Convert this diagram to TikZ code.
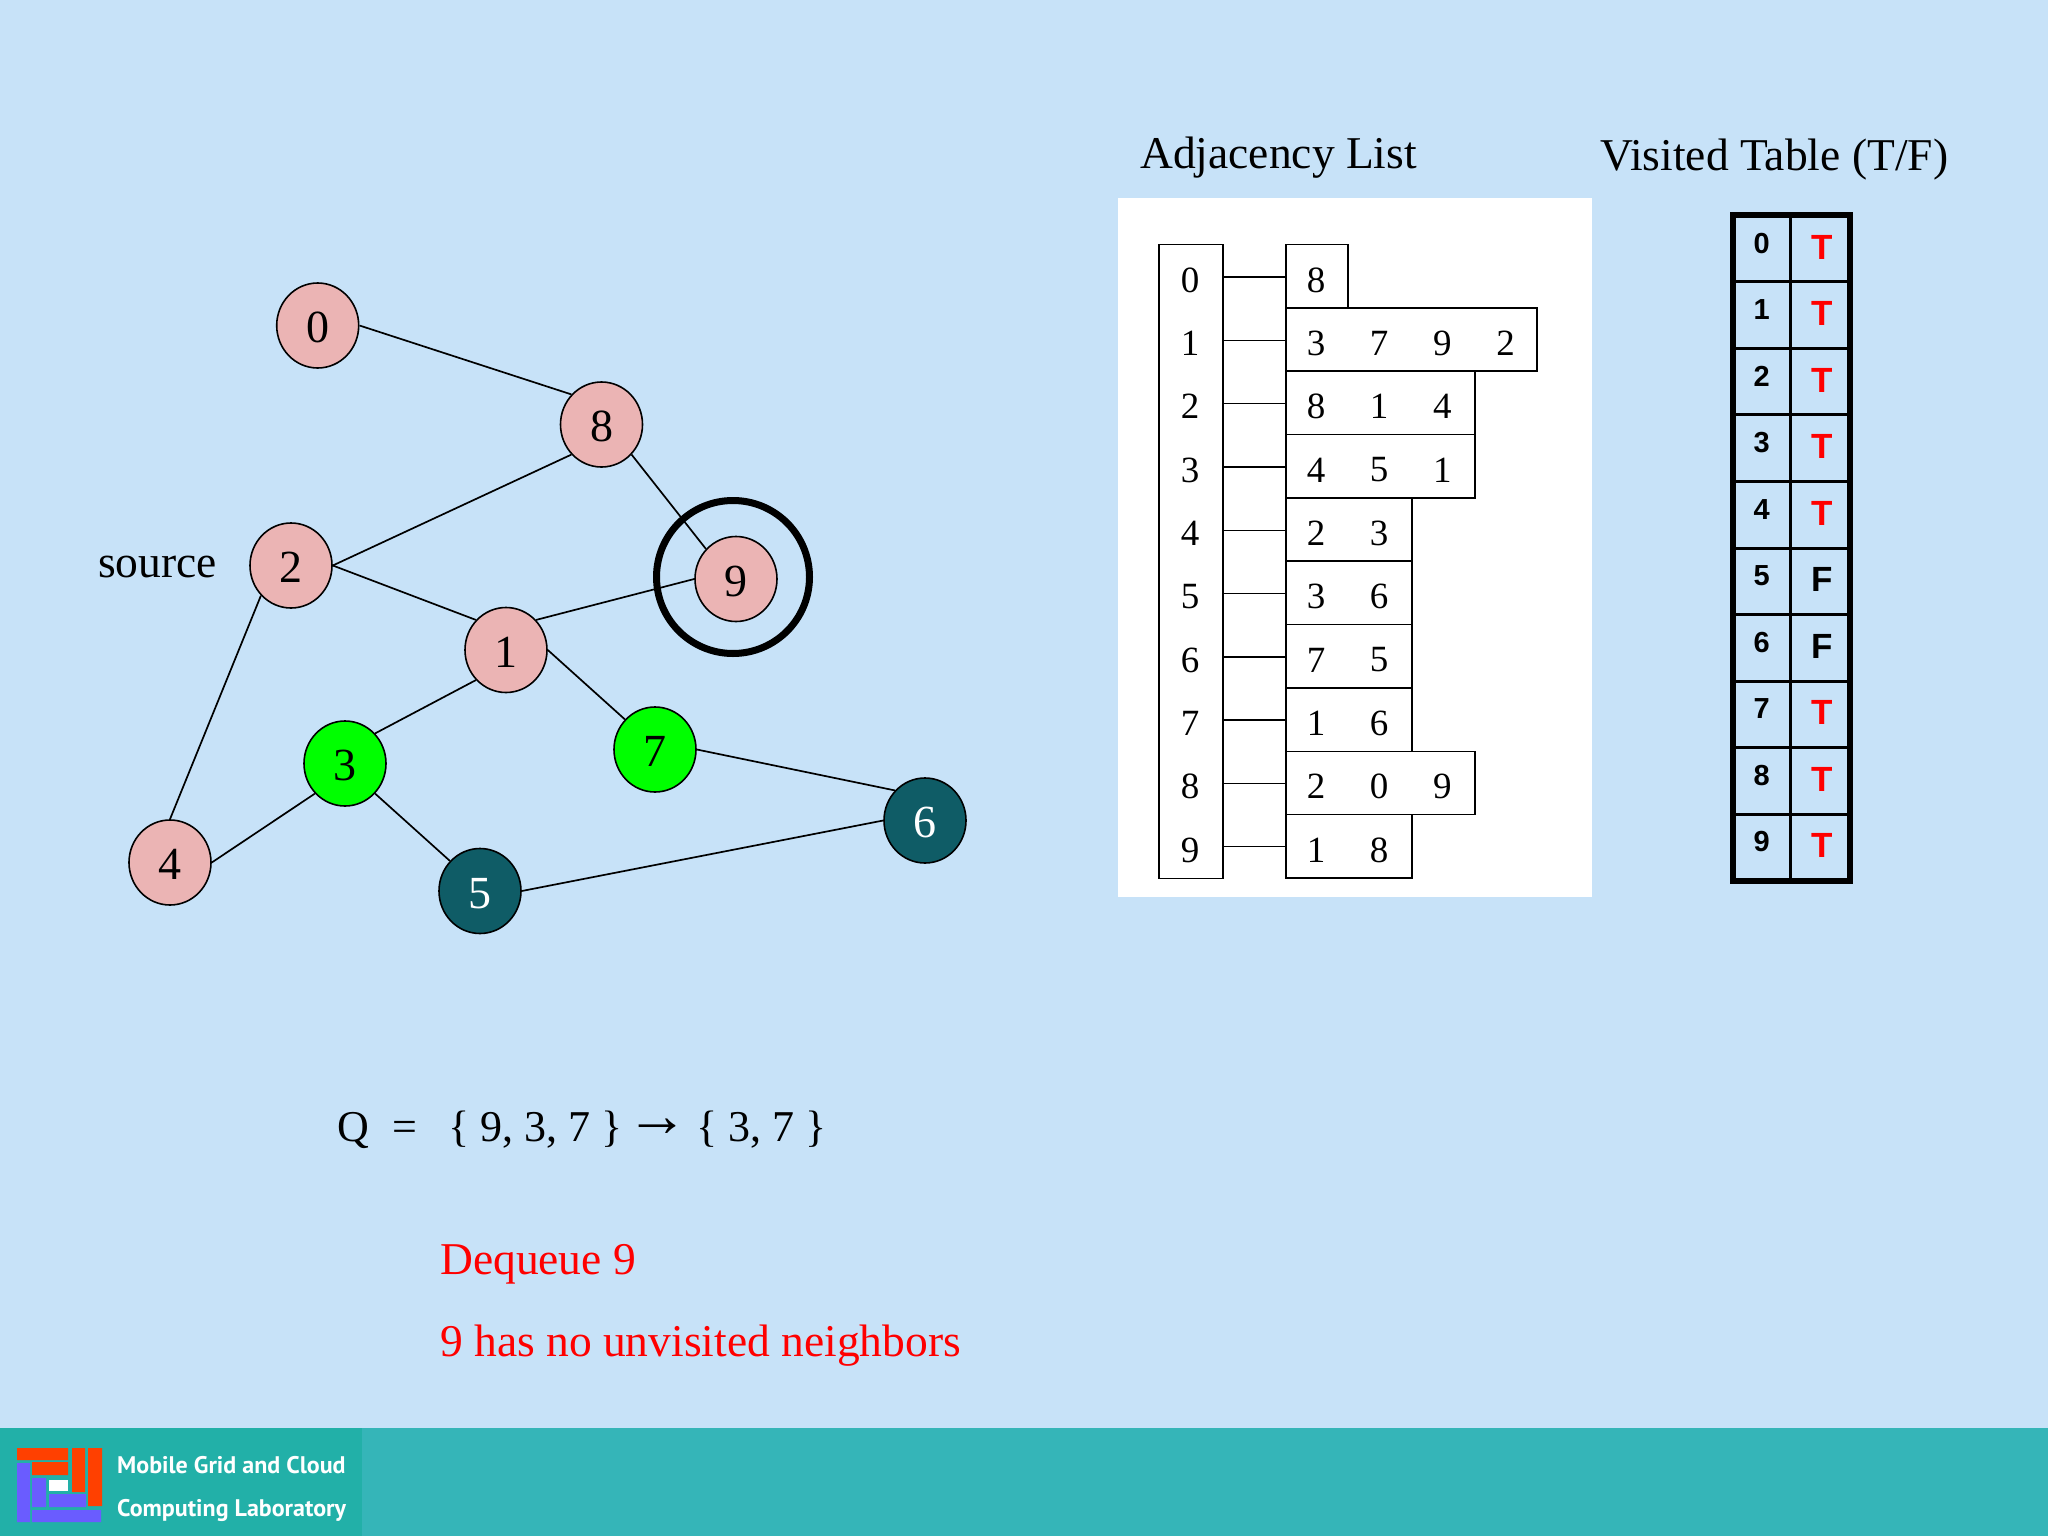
\documentclass[tikz,border=0pt]{standalone}
\usepackage{fontspec}
\usetikzlibrary{shapes.geometric}
\setmainfont{Liberation Serif}
\newfontfamily\tablefont{Liberation Sans}[BoldFont={Liberation Sans Bold}]
\newfontfamily\logofont{PT Sans}
\definecolor{slidebg}{HTML}{C7E2F8}
\definecolor{barteal}{HTML}{35B5B8}
\definecolor{logoteal}{HTML}{22B0A8}
\definecolor{pinknode}{HTML}{EBB4B4}
\definecolor{greennode}{HTML}{00FF00}
\definecolor{darknode}{HTML}{0F5C66}
\definecolor{logored}{HTML}{FF4000}
\definecolor{logoblue}{HTML}{6A5CFF}
\tikzset{
  gnode/.style={ellipse,draw=black,line width=1.6pt,minimum width=82pt,minimum height=85pt,inner sep=0pt,text height=34.5pt,text depth=0pt,font=\fontsize{46}{46}\selectfont},
  pinkv/.style={gnode,fill=pinknode},
  greenv/.style={gnode,fill=greennode},
  darkv/.style={gnode,fill=darknode,text=white},
  gedge/.style={draw=black,line width=1.7pt},
  cellbox/.style={draw=black,line width=1.5pt,fill=white,inner sep=0pt,anchor=north west,minimum height=63.35pt},
  cellnum/.style={font=\fontsize{37}{37}\selectfont,inner sep=0pt},
  conn/.style={draw=black,line width=1.4pt},
  lbl/.style={anchor=base west,inner sep=0pt,font=\fontsize{45.5}{45.5}\selectfont},
  qlbl/.style={anchor=base west,inner sep=0pt,font=\fontsize{44}{44}\selectfont},
  redlbl/.style={lbl,text=red},
  tgrid/.style={draw=black,line width=3pt},
  touter/.style={draw=black,line width=6pt},
  tidx/.style={font=\tablefont\bfseries\fontsize{29}{29}\selectfont,inner sep=0pt},
  tval/.style={font=\tablefont\bfseries\fontsize{35}{35}\selectfont,inner sep=0pt},
  logotext/.style={anchor=base west,inner sep=0pt,text=white,font=\logofont\bfseries\fontsize{24}{24}\selectfont},
}
\begin{document}
\begin{tikzpicture}[x=1pt,y=-1pt]
\useasboundingbox (0,0) rectangle (2048,1536);
\fill[slidebg] (0,0) rectangle (2048,1536);
% footer
\fill[barteal] (0,1428) rectangle (2048,1536);
\fill[logoteal] (0,1428) rectangle (362,1536);
\fill[logored] (17,1448) rectangle (68,1460) (32,1462) rectangle (68,1475) (72,1448) rectangle (85,1492) (88,1448) rectangle (102,1506);
\fill[logoblue] (17,1463) rectangle (30,1522) (32,1478) rectangle (46,1507) (49,1494) rectangle (86,1507) (32,1510) rectangle (101,1522);
\fill[white] (49,1480) rectangle (68,1491);
\node[logotext] (logoa) at (117,1473) {Mobile Grid and Cloud};
\node[logotext] (logob) at (117,1516) {Computing Laboratory};
% graph
\node[pinkv] (n0) at (317.7,325.5) {0};
\node[pinkv] (n8) at (601.5,424.5) {8};
\node[pinkv] (n2) at (291,565.5) {2};
\node[pinkv] (n9) at (736,579) {9};
\node[pinkv] (n1) at (506,650) {1};
\node[greenv] (n3) at (345,763.5) {3};
\node[greenv] (n7) at (655,749.5) {7};
\node[pinkv] (n4) at (170,862.5) {4};
\node[darkv] (n5) at (480,891) {5};
\node[darkv] (n6) at (925,820.5) {6};
\foreach \a/\b in {n0.0/n8.135,n8.225/n2.0,n8.-45/n9.135,n2.0/n1.135,n2.225/n4.90,n1.45/n9.180,n1.225/n3.45,n1.0/n7.135,n3.225/n4.0,n3.-45/n5.135,n7.0/n6.135,n5.0/n6.180}
  \draw[gedge] (\a) -- (\b);
\node[circle,draw=black,line width=7pt,minimum size=153pt,inner sep=0pt] (ring) at (733,577) {};
\node[lbl] (src) at (98,577) {source};
% titles
\node[lbl] (adjt) at (1140,168) {Adjacency List};
\node[lbl] (vist) at (1600,171) {Visited Table (T/F)};
% adjacency panel
\fill[white] (1118,198) rectangle (1592,897);
\node[cellbox,minimum width=64pt,minimum height=634pt] (idx) at (1158,243.7) {};
\foreach \i/\w/\vals [count=\r from 0] in {0/62.4/{8},1/251.4/{3,7,9,2},2/189.4/{8,1,4},3/189.4/{4,5,1},4/126/{2,3},5/126/{3,6},6/126/{7,5},7/126/{1,6},8/189.4/{2,0,9},9/126/{1,8}}{
  \pgfmathsetmacro{\ytop}{243.7+63.35*\r}
  \node[cellbox,minimum width=\w pt] (row\i) at (1285,\ytop) {};
  \pgfmathsetmacro{\ytxt}{\ytop+36.2}
  \node[cellnum] (ix\i) at (1190,\ytxt) {\i};
  \pgfmathsetmacro{\yc}{277+63.3*\r}
  \coordinate (ca\i) at (1222,\yc);
  \coordinate (cb\i) at (1285,\yc);
  \draw[conn] (ca\i) -- (cb\i);
  \foreach \v [count=\c from 0] in \vals {
    \pgfmathsetmacro{\xc}{1316+63.2*\c}
    \node[cellnum] (v\i-\c) at (\xc,\ytxt) {\v};
  }
}
% visited table
\foreach \i/\t/\col [count=\r from 0] in {0/T/red,1/T/red,2/T/red,3/T/red,4/T/red,5/F/black,6/F/black,7/T/red,8/T/red,9/T/red}{
  \pgfmathsetmacro{\yi}{243.5+66.5*\r}
  \pgfmathsetmacro{\yt}{247+66.5*\r}
  \node[tidx] (ti\i) at (1761.7,\yi) {\i};
  \node[tval,text=\col] (tv\i) at (1822,\yt) {\t};
}
\foreach \r in {1,...,9}{
  \pgfmathsetmacro{\yl}{215+66.6*\r}
  \draw[tgrid] (1733,\yl) -- (1849.5,\yl);
}
\draw[tgrid] (1790,215) -- (1790,881);
\draw[touter] (1733,215) rectangle (1849.5,881);
% queue
\node[qlbl] (qa) at (337,1141) {Q};
\node[qlbl] (qb) at (392,1141) {=};
\node[qlbl] (qc) at (448.5,1141) {\{ 9, 3, 7 \}};
\node[inner sep=0pt,font=\fontsize{62}{62}\selectfont] (qd) at (657.5,1128) {→};
\node[qlbl] (qe) at (696,1141) {\{ 3, 7 \}};
\node[redlbl] (d1) at (440,1274) {Dequeue 9};
\node[redlbl] (d2) at (440,1356) {9 has no unvisited neighbors};
\end{tikzpicture}
\end{document}
